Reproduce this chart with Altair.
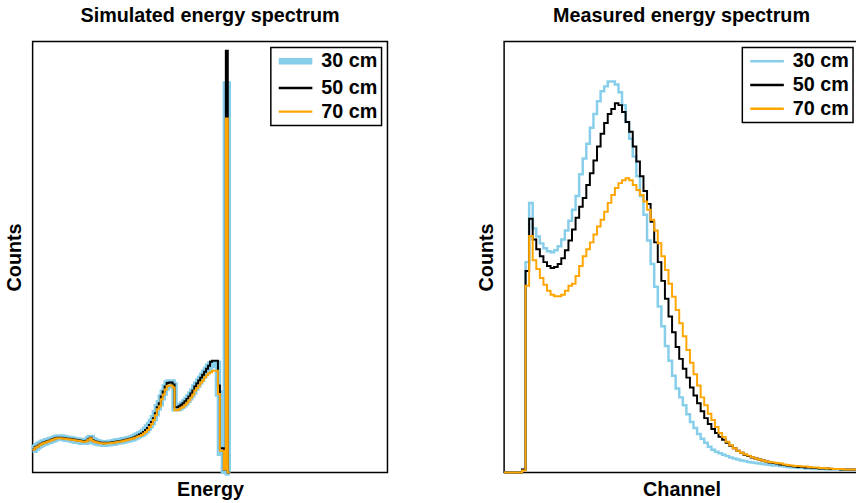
import altair as alt
import pandas as pd

FONT = "Liberation Sans"
SERIES = ["30 cm", "50 cm", "70 cm"]
COLORS = ["#87ceeb", "#000000", "#ffa500"]
Y_TOP = 436.5

# Simulated spectrum, counts per energy bin
sim_30 = [23, 25, 26.5, 28, 29, 30, 30.5, 31.5, 32, 33,
          33.5, 34.5, 35, 35.5, 35.5, 35, 34.5, 34, 34, 33.5,
          33, 32.5, 32, 32, 31.5, 31, 31, 31.5, 33.5, 35,
          32.5, 31.5, 30.5, 30, 29.5, 29.5, 29, 29.5, 29.5, 30,
          30, 30.5, 31, 31.5, 31.5, 32, 32.5, 33, 33.5, 34,
          34.5, 35.5, 36.5, 37.5, 38.5, 39.5, 41, 43, 45.5, 48,
          51, 55, 60, 66, 70, 76, 81, 86, 90, 91,
          91, 88, 65, 65, 66, 67.5, 69, 71, 73.5, 76,
          79, 82, 86, 89, 92, 95, 98, 101, 104, 107,
          109, 110, 110, 110, 80, 20, 20, 2, 393, 0]
sim_50 = [23.5, 25.5, 26.5, 28, 29, 30, 30.5, 31.5, 32, 33,
          33.5, 34.5, 35, 35, 35, 34.5, 34.5, 34, 34, 33.5,
          33.5, 33, 32.5, 32.5, 32, 31.5, 31.5, 32, 33.5, 35,
          32.5, 31.5, 31, 30.5, 30, 30, 29.5, 30, 30, 30,
          30.5, 30.5, 31, 31.5, 31.5, 32, 32.5, 33, 33.5, 34,
          34.5, 35.5, 36.5, 37.5, 38.5, 39.5, 41, 43, 45, 48,
          51, 55, 60, 66, 70, 77, 82, 87, 90.5, 91,
          91, 89, 66, 66, 67, 68.5, 70, 72, 74.5, 77,
          80, 83, 87, 90, 93, 96, 99, 102, 105, 108,
          112, 113, 113, 113, 88, 24.5, 24.5, 3, 427, 0]
sim_70 = [23, 25, 26, 27.5, 28.5, 29.5, 30, 31, 31.5, 32.5,
          33, 34, 34.5, 34.5, 34.5, 34, 34, 33.5, 33.5, 33,
          33, 32.5, 32, 32, 31.5, 31, 31, 31.5, 33, 34.5,
          32, 31, 30.5, 30, 29.5, 29.5, 29, 29.5, 29.5, 29.5,
          30, 30, 30.5, 31, 31, 31.5, 32, 32.5, 33, 33.5,
          34, 34.5, 35.5, 36.5, 37, 38, 39.5, 41, 43, 46,
          49, 53, 58, 64, 67, 74, 79, 84, 87.5, 88,
          88, 86, 63, 63, 64, 65.5, 66.5, 68.5, 70.5, 73,
          76, 79, 83, 85.5, 88, 91, 93, 96.5, 98.5, 100.5,
          101.5, 103, 103, 103, 79.5, 22, 22, 3, 358.5, 0]

# Measured spectrum, counts per channel
meas_30 = [0, 0, 0, 0, 0, 3, 213, 273, 247, 239,
           232, 227, 224, 223, 225, 229, 236, 245, 255, 266,
           280, 302, 318, 333, 349, 363, 376, 386, 391, 396,
           396, 393, 385, 372, 355, 338, 320, 300, 280, 261,
           235, 211, 188, 168, 148, 128, 113, 98, 85, 76,
           68, 59, 51, 45, 39, 34, 30, 26, 23, 21,
           19.5, 18, 16.5, 15, 14, 13, 12, 11.5, 10.5, 10,
           9.5, 9, 8.5, 8, 7.5, 7, 7, 6.5, 6, 5.5,
           5, 5, 4.5, 4.5, 4, 4, 3.5, 3.5, 3.5, 3.5,
           3, 3, 3, 3, 3, 2.5, 2.5, 2.5, 2.5]
meas_50 = [0, 0, 0, 0, 0, 3, 204, 257, 236, 226,
           219, 213, 209, 207, 208, 211, 217, 225, 235, 246,
           258, 269, 278, 291, 303, 316, 330, 343, 354, 363,
           368, 374, 372, 365, 355, 345, 330, 315, 300, 285,
           272, 254, 233, 213, 194, 176, 158, 142, 127, 115,
           105, 96, 86, 78, 70, 62, 55, 49, 44, 40,
           36, 33, 30, 27, 24.5, 22, 20, 18, 16.5, 15,
           14, 13, 12, 11, 10, 9.5, 9, 8, 7.5, 7,
           6.5, 6, 5.5, 5.5, 5, 5, 4.5, 4.5, 4, 4,
           4, 3.5, 3.5, 3.5, 3, 3, 3, 3, 3]
meas_70 = [0, 0, 0, 0, 0, 2, 189, 239.5, 215, 206,
           197, 190, 184, 180, 178.5, 178.5, 180, 184, 189, 191,
           199, 209, 219, 226, 233, 241, 249, 256, 264, 273,
           281, 288, 293, 296, 298, 296, 291, 286, 281, 274.5,
           266, 256, 245, 232, 219, 205, 191, 178, 164.5, 151,
           138, 124, 111, 99.5, 88, 76, 68, 59.5, 53, 46,
           40, 36, 31, 27.5, 24.5, 22, 20, 18.5, 17, 15.5,
           14, 13, 12, 11, 10.5, 10, 9.5, 9, 8, 7.5,
           7, 6.5, 6.5, 6, 6, 5.5, 5, 5, 4.5, 4.5,
           4, 4, 3.5, 3.5, 3.5, 3, 3, 3, 3]

# line widths per series in each panel
SIM_WIDTHS = [6.5, 2, 2]
MEAS_WIDTHS = [2.5, 2, 2]


def step_table(series_values, widths):
    """Long table of histogram bins; a closing point draws the last bin's top."""
    rows = []
    for name, vals, w in zip(SERIES, series_values, widths):
        for i, v in enumerate(vals):
            rows.append({"bin": i, "counts": v, "series": name, "lw": w})
        rows.append({"bin": len(vals), "counts": vals[-1], "series": name, "lw": w})
    return pd.DataFrame(rows)


def spectrum_panel(series_values, x_max, width, title, x_title, widths, symbol_width):
    table = step_table(series_values, widths)
    legend = alt.Legend(
        title=None, orient="top-right", offset=6, padding=4, rowPadding=4,
        strokeColor="black", fillColor="white",
        symbolType="M-2.615,0L2.615,0", symbolSize=169, symbolOffset=11,
        symbolStrokeWidth=symbol_width,
        labelOffset=16, labelFont=FONT, labelFontSize=20, labelFontWeight="bold",
        labelColor="black",
    )
    x = alt.X("bin:Q", scale=alt.Scale(domain=[0, x_max], nice=False, zero=False),
              axis=alt.Axis(title=x_title, ticks=False, labels=False, domain=False, grid=False,
                            titleFont=FONT, titleFontSize=20, titleFontWeight="bold",
                            titleColor="black", titlePadding=7))
    y = alt.Y("counts:Q", scale=alt.Scale(domain=[0, Y_TOP], nice=False),
              axis=alt.Axis(title="Counts", ticks=False, labels=False, domain=False, grid=False,
                            titleFont=FONT, titleFontSize=20, titleFontWeight="bold",
                            titleColor="black", titlePadding=8))
    color = alt.Color("series:N", scale=alt.Scale(domain=SERIES, range=COLORS), legend=legend)
    base = alt.Chart(table)
    layers = [
        base.transform_filter(alt.datum.series == name)
        .mark_line(interpolate="step-after")
        .encode(x=x, y=y, color=color, strokeWidth=alt.StrokeWidth("lw:Q", scale=None))
        for name in SERIES
    ]
    return alt.layer(*layers).properties(
        width=width, height=436,
        title=alt.TitleParams(title, font=FONT, fontSize=20, fontWeight="bold",
                              color="black", anchor="middle", offset=16),
    )


left = spectrum_panel(
    [sim_30, sim_50, sim_70], 180, 359, "Simulated energy spectrum", "Energy",
    SIM_WIDTHS, alt.ExprRef("datum.value === '30 cm' ? 6.5 : 2.5"),
)
right = spectrum_panel(
    [meas_30, meas_50, meas_70], 99.3, 359, "Measured energy spectrum", "Channel",
    MEAS_WIDTHS, 2.5,
)

# the measured panel runs past the right edge of the page, as in the printed figure
chart = (
    alt.hconcat(left, right, spacing=88)
    .resolve_scale(color="independent")
    .resolve_legend(color="independent")
    .properties(padding={"left": 4, "top": 2, "right": -8, "bottom": 0}, background="white")
    .configure_view(stroke="black", strokeWidth=1.5)
    .configure_legend(strokeWidth=1.5)
)

chart.save("out.html", embed_options={"renderer": "svg", "actions": False})
